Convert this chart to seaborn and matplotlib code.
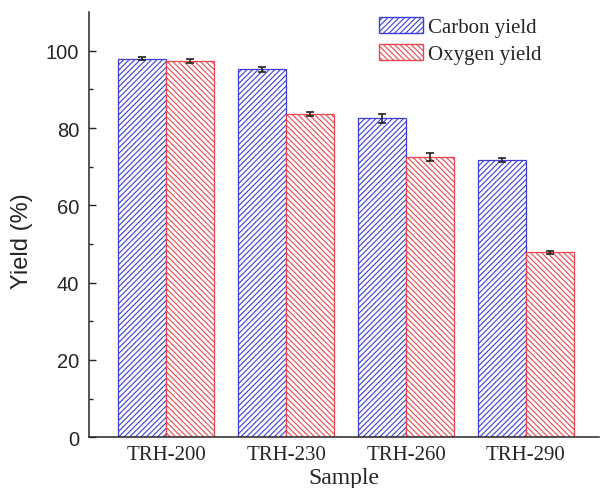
import matplotlib
matplotlib.use("Agg")
import matplotlib.pyplot as plt
import seaborn as sns
import pandas as pd
import numpy as np

samples = ["TRH-200", "TRH-230", "TRH-260", "TRH-290"]
carbon = [98.0, 95.2, 82.5, 71.7]
oxygen = [97.3, 83.6, 72.6, 47.8]
carbon_err = [0.4, 0.6, 1.2, 0.6]
oxygen_err = [0.5, 0.5, 1.0, 0.4]
series = ["Carbon yield", "Oxygen yield"]

sns.set_style("ticks")
plt.rcParams['font.family'] = ['Liberation Serif', 'DejaVu Serif']
plt.rcParams['hatch.linewidth'] = 0.8

df = pd.DataFrame({
    "Sample": samples * 2,
    "Yield": carbon + oxygen,
    "Series": [series[0]] * 4 + [series[1]] * 4,
})

fig = plt.figure(figsize=(6.04, 4.89), dpi=100)
ax = fig.add_axes([0.147, 0.104, 0.845, 0.869])

edge = {"Carbon yield": "#3d3dd6", "Oxygen yield": "#e8474f"}
sns.barplot(data=df, x="Sample", y="Yield", hue="Series", order=samples,
            hue_order=series, palette={"Carbon yield": "white", "Oxygen yield": "white"},
            errorbar=None, width=0.8, ax=ax, saturation=1)

hatches = {"Carbon yield": "//////", "Oxygen yield": "\\\\\\\\\\\\"}
for cont, s in zip(ax.containers, series):
    for p in cont:
        p.set_edgecolor(edge[s])
        p.set_hatch(hatches[s])
        p.set_linewidth(0.9)

# error bars
for ci, (cont, s) in enumerate(zip(ax.containers, series)):
    vals = carbon if ci == 0 else oxygen
    ee = carbon_err if ci == 0 else oxygen_err
    xs = [p.get_x() + p.get_width() / 2 for p in cont]
    ax.errorbar(xs, vals, yerr=ee, fmt="none", ecolor="#222222",
                elinewidth=1.2, capsize=3, capthick=1.2, zorder=5)

ax.set_ylim(0, 110)
ax.set_xlim(-0.645, 3.61)
ax.set_yticks([0, 20, 40, 60, 80, 100])
ax.set_yticks([10, 30, 50, 70, 90], minor=True)
ax.tick_params(axis="y", which="major", direction="in", length=5, width=1, pad=7)
ax.tick_params(axis="y", which="minor", direction="in", length=3, width=1)
ax.tick_params(axis="x", which="major", length=0, labelsize=15, pad=6)
for lab in ax.get_yticklabels():
    lab.set_fontfamily(['Liberation Sans', 'DejaVu Sans'])
    lab.set_fontsize(14.5)
sns.despine(ax=ax)
ax.spines["left"].set_linewidth(1.1)
ax.spines["bottom"].set_linewidth(1.1)
ax.set_xlabel("Sample", fontsize=17, labelpad=2)
ax.set_ylabel("Yield (%)", fontsize=17, labelpad=8,
              family=['Liberation Sans', 'DejaVu Sans'])
ax.yaxis.set_label_coords(-0.11, 0.463)

leg = ax.legend(loc="upper left", bbox_to_anchor=(0.569, 0.988), frameon=False,
                fontsize=15, handlelength=2.1, handleheight=0.75,
                handletextpad=0.25, labelspacing=0.35, borderaxespad=0, borderpad=0)
for h, s in zip(leg.legend_handles, series):
    h.set_edgecolor(edge[s])
    h.set_hatch(hatches[s])

fig.savefig("out.png", dpi=100)
